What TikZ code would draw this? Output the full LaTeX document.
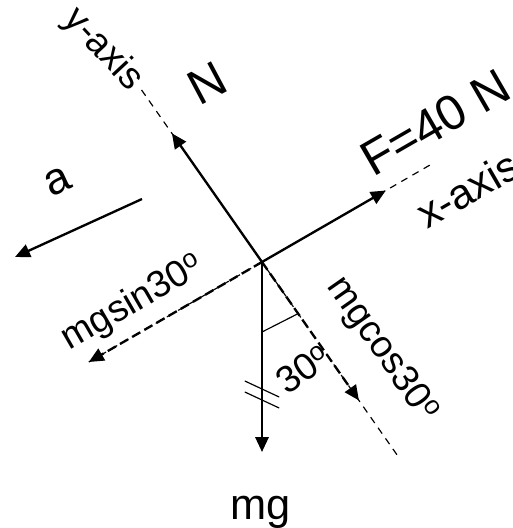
\documentclass[tikz,border=0pt]{standalone}
\usepackage{fontspec}
\setmainfont{Liberation Sans}
\usetikzlibrary{arrows.meta}

\begin{document}
\begin{tikzpicture}[x=0.03cm, y=0.03cm,
  force/.style={-{Triangle[length=4.5mm, width=4mm]}, line width=2pt},
  comp/.style={force, dash pattern=on 8pt off 4pt},
  axisline/.style={line width=1pt, dash pattern=on 6pt off 5pt},
  lbl/.style={font=\fontsize{32}{38}\selectfont, inner sep=0pt},
  biglbl/.style={font=\fontsize{42}{48}\selectfont, inner sep=0pt}
]
  \useasboundingbox (-262,-266) rectangle (251,262);

  \coordinate (O) at (0,0);
  % axes
  \coordinate (ytop) at (125:210);
  \coordinate (ybot) at (-55:240);
  \coordinate (xleft) at (210:200);
  \coordinate (xright) at (30:197);
  \draw[axisline] (ytop) -- (ybot);
  \draw[axisline] (xleft) -- (xright);

  % forces
  \coordinate (Ntip) at (125:157);
  \coordinate (Ftip) at (30:143);
  \coordinate (mgtip) at (0,-190);
  \coordinate (sintip) at (210:200);
  \coordinate (costip) at (-55:169);
  \draw[force] (O) -- (Ntip);
  \draw[force] (O) -- (Ftip);
  \draw[force] (O) -- (mgtip);
  \draw[comp] (O) -- (sintip);
  \draw[comp] (O) -- (costip);

  % acceleration
  \coordinate (astart) at (-120,63);
  \coordinate (aend) at (-247,5);
  \draw[force] (astart) -- (aend);

  % angle mark and ticks
  \coordinate (m1) at (-90:70);
  \coordinate (m2) at (-55:63);
  \draw[line width=1pt] (m1) -- (m2);
  \draw[line width=1pt] (0,-127) ++(155:19) -- ++(-25:38);
  \draw[line width=1pt] (0,-138) ++(155:19) -- ++(-25:38);

  % labels
  \node[biglbl, rotate=28] (Nlbl) at (-55,179) {N};
  \node[lbl, rotate=-47] (ylbl) at (-159,212) {y-axis};
  \node[biglbl, rotate=25, font=\fontsize{38}{44}\selectfont] (albl) at (-204,80) {a};
  \node[biglbl, rotate=30, anchor=base west] (Flbl) at (111,84) {F=40 N};
  \node[lbl, rotate=30, anchor=base west, font=\fontsize{36}{42}\selectfont] (xlbl) at (165,32) {x-axis};
  \node[lbl, rotate=30] (sinlbl) at (-129,-41) {mgsin30\textsuperscript{o}};
  \node[lbl, rotate=-55] (coslbl) at (120,-88) {mgcos30\textsuperscript{o}};
  \node[lbl, rotate=35] (anglbl) at (41,-107) {30\textsuperscript{o}};
  \node[lbl, font=\fontsize{37}{44}\selectfont] (mglbl) at (-1,-250) {mg};
\end{tikzpicture}
\end{document}
